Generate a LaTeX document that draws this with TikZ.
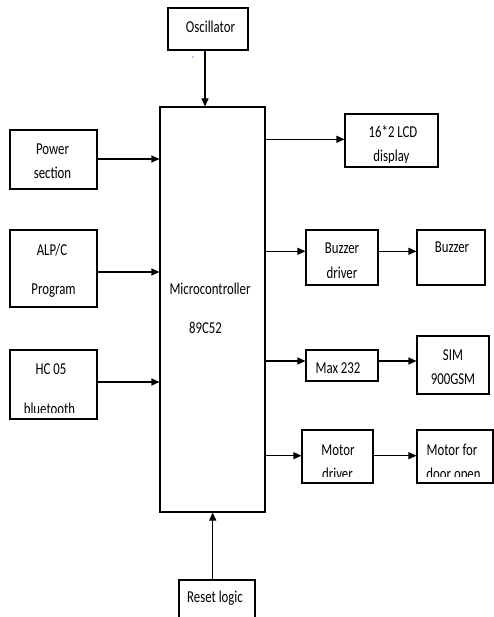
\documentclass[tikz,border=0pt]{standalone}
\usepackage{fontspec}
\setmainfont{Carlito}
\usetikzlibrary{arrows.meta}
\newcommand\sttxt[1]{\scalebox{1}[1.3]{#1}}
\begin{document}
\begin{tikzpicture}[x=1pt,y=-1pt,
  box/.style={draw, line width=1.1pt, inner sep=0pt, rectangle},
  txt/.style={anchor=base, inner sep=0pt, font=\fontsize{12.8}{15}\selectfont},
  arr/.style={line width=1.1pt, -{Triangle[length=8pt,width=7pt]}}]
\clip (0,0) rectangle (494,617);
% boxes
\node[box, minimum width=80, minimum height=42] (osc) at (208,29) {};
\node[box, minimum width=87, minimum height=59] (power) at (53.5,159.5) {};
\node[box, minimum width=93, minimum height=53] (lcd) at (391.5,140.5) {};
\node[box, minimum width=87, minimum height=77] (alp) at (53.5,268.5) {};
\node[box, minimum width=87, minimum height=69] (hc) at (53.5,384.5) {};
\node[box, minimum width=105, minimum height=405] (mc) at (212.5,309.5) {};
\node[box, minimum width=72, minimum height=55] (bdrv) at (342,257.5) {};
\node[box, minimum width=68, minimum height=55] (buz) at (451,257.5) {};
\node[box, minimum width=72, minimum height=31] (max) at (342,365.5) {};
\node[box, minimum width=72, minimum height=58] (sim) at (453,365) {};
\node[box, minimum width=71, minimum height=53] (mdrv) at (337.5,456.5) {};
\node[box, minimum width=76, minimum height=53] (door) at (455,456.5) {};
\node[box, minimum width=76, minimum height=45] (reset) at (217,602.5) {};
% texts
\node[txt] (osc-t) at (210.5,32.3) {\sttxt{Oscillator}};
\node[txt] (power-t1) at (52.5,155) {\sttxt{Power}};
\node[txt] (power-t2) at (52.5,179) {\sttxt{section}};
\node[txt] (lcd-t1) at (393,137.3) {\sttxt{16*2 LCD}};
\begin{scope}
\clip (lcd.north west) rectangle (lcd.east |- 0,162.3);
\node[txt] (lcd-t2) at (391.5,162) {\sttxt{display}};
\end{scope}
\node[txt] (alp-t1) at (52,255) {\sttxt{ALP/C}};
\node[txt] (alp-t2) at (53.5,294) {\sttxt{Program}};
\node[txt] (mc-t1) at (210,294.7) {\sttxt{Microcontroller}};
\node[txt] (mc-t2) at (205.5,333.3) {\sttxt{89C52}};
\node[txt] (hc-t1) at (51,374.3) {\sttxt{HC 05}};
\begin{scope}
\clip (hc.north west) rectangle (hc.east |- 0,412);
\node[txt] (hc-t2) at (49.5,414) {\sttxt{bluetooth}};
\end{scope}
\node[txt] (bdrv-t1) at (342,254) {\sttxt{Buzzer}};
\begin{scope}
\clip (bdrv.north west) rectangle (bdrv.east |- 0,277.7);
\node[txt] (bdrv-t2) at (342,278.5) {\sttxt{driver}};
\end{scope}
\node[txt] (buz-t) at (452,252.7) {\sttxt{Buzzer}};
\node[txt] (max-t) at (338,373.3) {\sttxt{Max 232}};
\node[txt] (sim-t1) at (453,360) {\sttxt{SIM}};
\node[txt] (sim-t2) at (453,384.3) {\sttxt{900GSM}};
\node[txt] (mdrv-t1) at (338,455) {\sttxt{Motor}};
\begin{scope}
\clip (mdrv.north west) rectangle (mdrv.east |- 0,476);
\node[txt] (mdrv-t2) at (337.5,479.5) {\sttxt{driver}};
\end{scope}
\node[txt] (door-t1) at (452,455) {\sttxt{Motor for}};
\begin{scope}
\clip (door.north west) rectangle (door.east |- 0,476);
\node[txt] (door-t2) at (453.5,479.5) {\sttxt{door open}};
\end{scope}
\node[txt] (reset-t) at (215,602.3) {\sttxt{Reset logic}};
% stray dot
\fill[blue] (193,57) circle (0.7);
% connectors
\draw[arr] (osc.south -| 205,0) -- (mc.north -| 205,0);
\draw[arr] (power.east |- 0,159) -- (mc.west |- 0,159);
\draw[arr] (alp.east |- 0,272) -- (mc.west |- 0,272);
\draw[arr] (hc.east |- 0,382) -- (mc.west |- 0,382);
\draw[arr] (mc.east |- 0,139.3) -- (lcd.west |- 0,139.3);
\draw[arr] (mc.east |- 0,251.3) -- (bdrv.west |- 0,251.3);
\draw[arr] (bdrv.east |- 0,251.3) -- (buz.west |- 0,251.3);
\draw[arr] (mc.east |- 0,361) -- (max.west |- 0,361);
\draw[arr] (max.east |- 0,361) -- (sim.west |- 0,361);
\draw[arr] (mc.east |- 0,455.7) -- (mdrv.west |- 0,455.7);
\draw[arr] (mdrv.east |- 0,455.7) -- (door.west |- 0,455.7);
\draw[arr] (reset.north -| 212.7,0) -- (mc.south -| 212.7,0);
\end{tikzpicture}
\end{document}
